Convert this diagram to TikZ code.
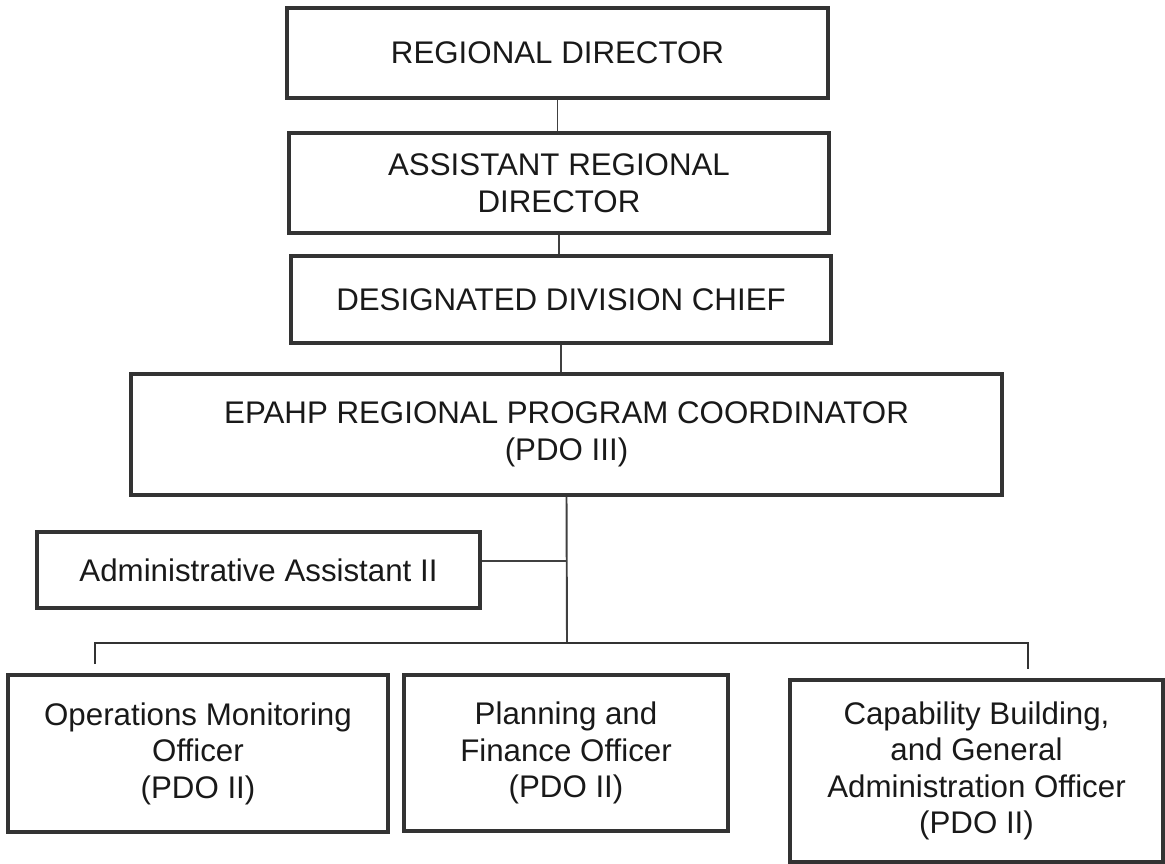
\documentclass[tikz,border=0pt]{standalone}
\usepackage{fontspec}
\setmainfont{Liberation Sans}
\usetikzlibrary{positioning}

\begin{document}
\begin{tikzpicture}[
    x=0.02cm, y=-0.02cm,
    every node/.style={align=center, font=\fontsize{17.8}{20.8}\selectfont, text=black!90},
    post/.style={draw=black!80, line width=2.2pt, inner sep=0pt},
    link/.style={draw=black!75, line width=1.1pt},
    bus/.style={draw=black!80, line width=1.6pt}
]
    \useasboundingbox (0,0) rectangle (1165,864);

    % upper chain
    \node[post, minimum width=10.82cm, minimum height=1.80cm] (rd)  at (557.5,53)  {REGIONAL DIRECTOR};
    \node[post, minimum width=10.80cm, minimum height=2.00cm] (ard) at (559,183)   {ASSISTANT REGIONAL\\DIRECTOR};
    \node[post, minimum width=10.80cm, minimum height=1.74cm] (ddc) at (561,299.5) {DESIGNATED DIVISION CHIEF};
    \node[post, minimum width=17.42cm, minimum height=2.42cm] (rpc) at (566.5,434.5) {EPAHP REGIONAL PROGRAM COORDINATOR\\(PDO III)};

    \node[post, minimum width=8.86cm, minimum height=1.52cm] (admin) at (258.5,570) {Administrative Assistant II};

    % officers
    \node[post, minimum width=7.60cm, minimum height=3.14cm] (ops)  at (198,753.5) {Operations Monitoring\\Officer\\(PDO II)};
    \node[post, minimum width=6.48cm, minimum height=3.12cm] (plan) at (566,753)   {Planning and\\Finance Officer\\(PDO II)};
    \node[post, minimum width=7.46cm, minimum height=3.64cm] (cap)  at (976.5,771) {Capability Building,\\and General\\Administration Officer\\(PDO II)};

    \coordinate (busM) at (567,643);
    \coordinate (busL) at (95,643);
    \coordinate (busR) at (1028,643);
    \coordinate (opsTick) at (95,664);
    \coordinate (capTick) at (1028,669);

    \draw[link] (rd.south) -- (rd.south |- ard.north);
    \draw[link] (ard.south) -- (ard.south |- ddc.north);
    \draw[link] (ddc.south) -- (ddc.south |- rpc.north);
    \draw[link] (rpc.south) -- (busM);
    \draw[link] ([yshift=0.18cm]admin.east) -- ([yshift=0.18cm]admin.east -| rpc.south);

    \draw[bus] (opsTick) -- (busL) -- (busR) -- (capTick);
\end{tikzpicture}
\end{document}
